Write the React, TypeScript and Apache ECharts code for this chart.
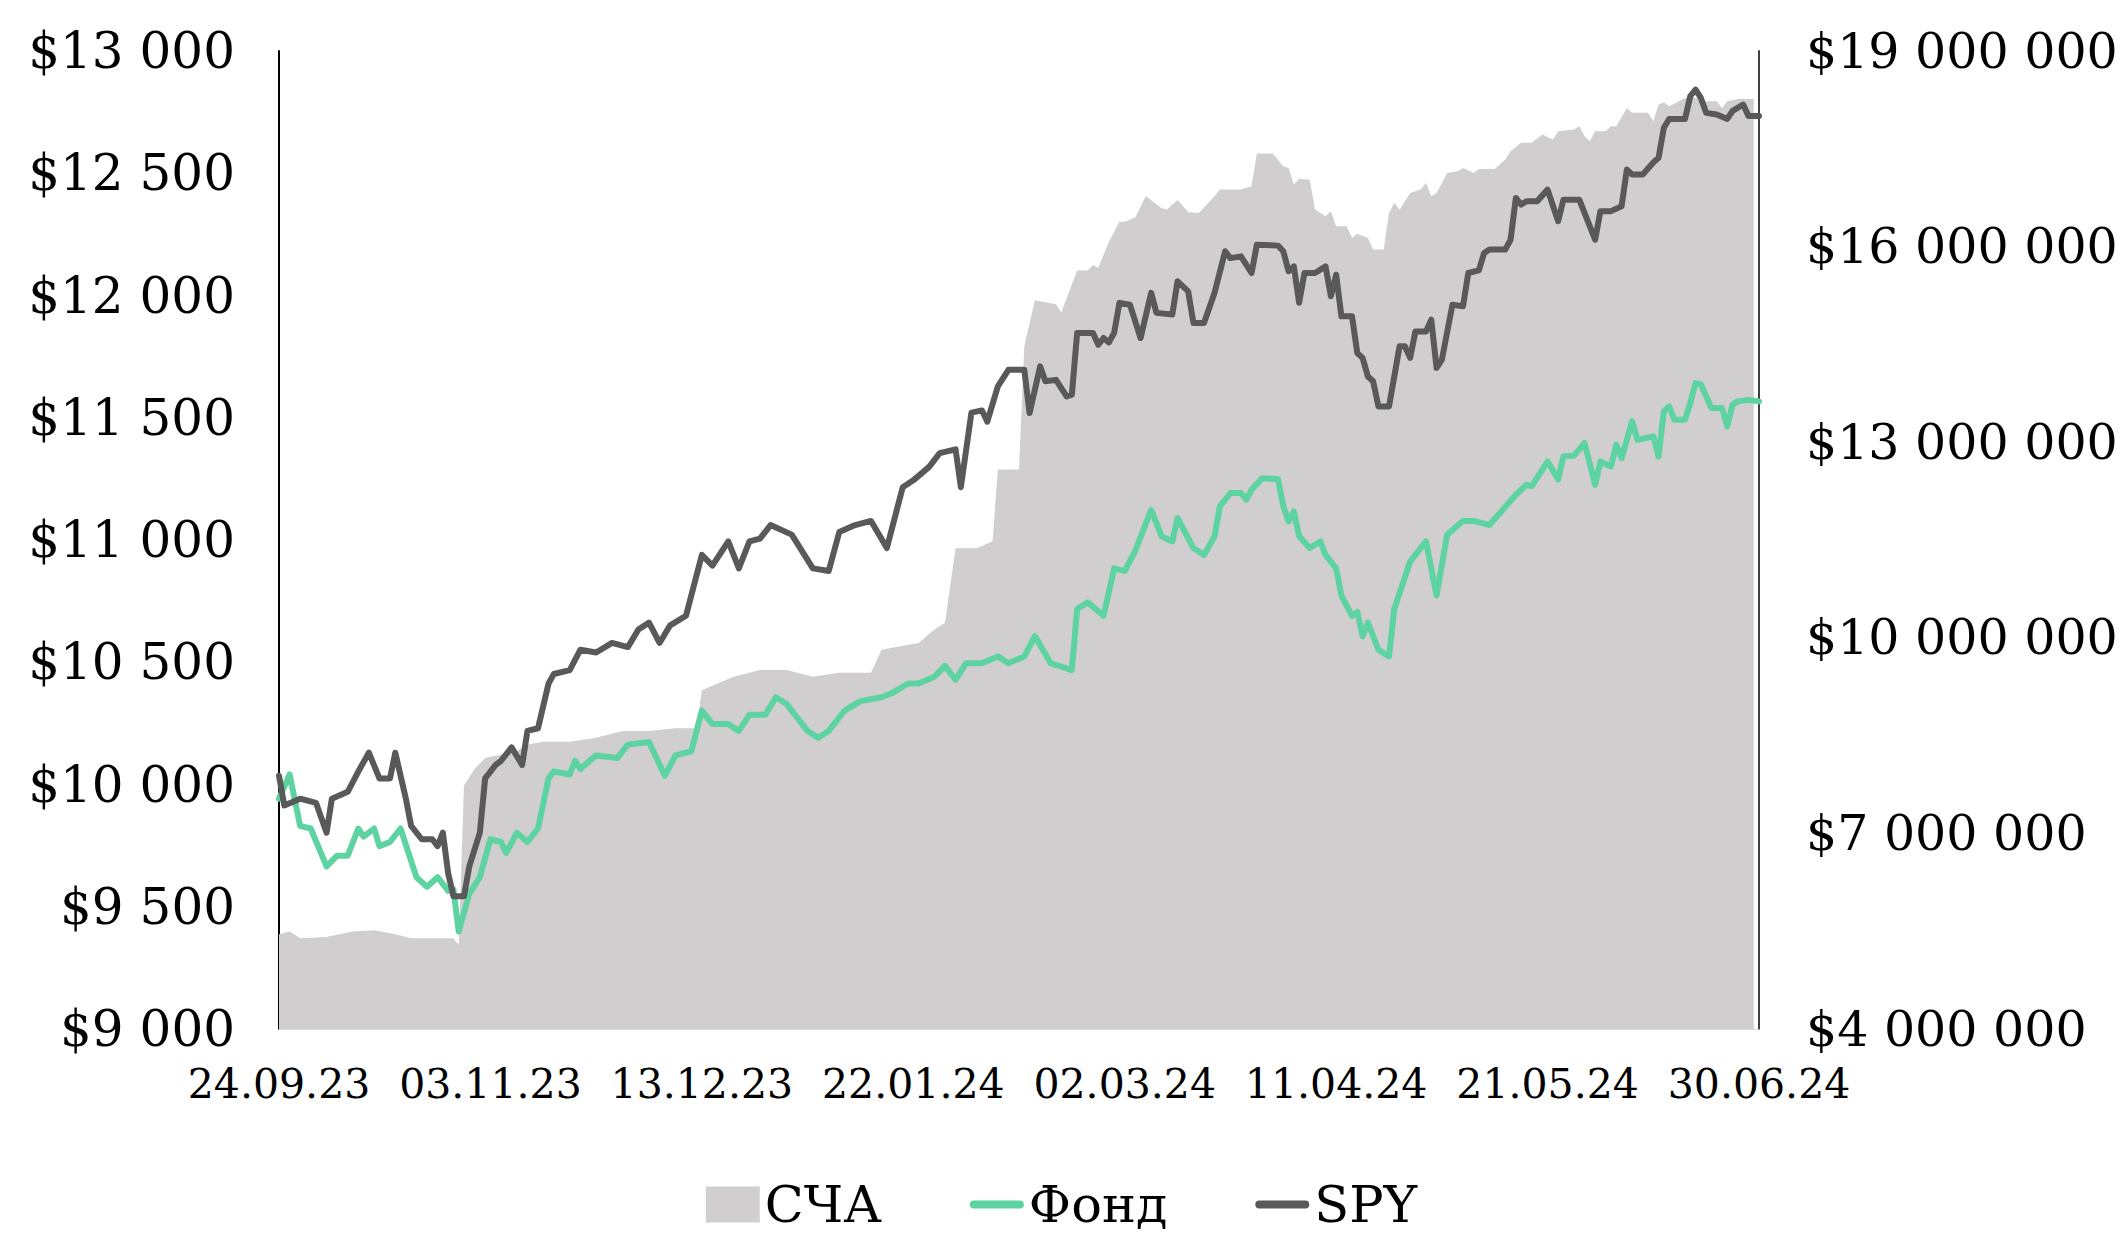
import React, { useEffect, useRef } from "react";
import * as echarts from "echarts";

// x values are days since 24.09.2023
const START_UTC = Date.UTC(2023, 8, 24);
const X_MAX_DAYS = 280;
const X_TICK_DAYS = 40;

const leftTicks = { min: 9000, max: 13000, interval: 500 };
const rightTicks = { min: 4000000, max: 19000000, interval: 3000000 };

const seriesNames = ["СЧА", "Фонд", "SPY"];

const navData: [number, number][] = [
  [0, 5454000], [2, 5495000], [4, 5392000], [9, 5412000], [14, 5495000], [18, 5516000],
  [22, 5454000], [25, 5392000], [29, 5392000], [33, 5392000], [34, 5288000], [35, 7739000],
  [37, 7989000], [39, 8155000], [45, 8259000], [47, 8363000], [50, 8404000], [55, 8404000],
  [60, 8467000], [65, 8570000], [70, 8570000], [75, 8612000], [79, 8612000], [80, 9194000],
  [86, 9401000], [91, 9505000], [96, 9505000], [101, 9401000], [106, 9464000], [112, 9464000],
  [114, 9817000], [121, 9921000], [124, 10129000], [126, 10232000], [128, 11375000], [132, 11375000],
  [135, 11479000], [136, 12580000], [140, 12580000], [141, 14471000], [143, 15177000], [147, 15115000],
  [148, 14990000], [151, 15634000], [153, 15634000], [154, 15717000], [155, 15676000], [157, 16071000],
  [159, 16382000], [160, 16382000], [162, 16445000], [164, 16777000], [167, 16590000], [168, 16569000],
  [170, 16715000], [172, 16528000], [174, 16517000], [177, 16771000], [178, 16875000], [182, 16875000],
  [184, 16924000], [185, 17427000], [188, 17427000], [190, 17232000], [191, 17207000], [192, 16951000],
  [193, 17039000], [195, 17026000], [196, 16569000], [198, 16465000], [199, 16542000], [200, 16312000],
  [202, 16312000], [203, 16133000], [204, 16199000], [206, 16133000], [207, 15954000], [209, 15954000],
  [210, 16517000], [211, 16671000], [212, 16567000], [214, 16823000], [216, 16875000], [217, 16976000],
  [218, 16771000], [219, 16823000], [221, 17130000], [223, 17155000], [224, 17207000], [226, 17130000],
  [227, 17192000], [230, 17192000], [232, 17334000], [233, 17463000], [235, 17591000], [237, 17591000],
  [239, 17718000], [241, 17641000], [242, 17768000], [245, 17795000], [246, 17845000], [247, 17693000],
  [248, 17616000], [249, 17768000], [251, 17768000], [252, 17845000], [253, 17845000], [255, 18127000],
  [256, 18051000], [259, 18051000], [260, 17922000], [261, 18179000], [262, 18215000], [263, 18152000],
  [266, 18281000], [269, 18281000], [270, 18229000], [272, 18229000], [273, 18127000], [274, 18229000],
  [276, 18265000], [279, 18265000],
];

const fundData: [number, number][] = [
  [0, 9942], [2, 10041], [4, 9831], [6, 9820], [9, 9665], [11, 9709], [13, 9709], [15, 9820],
  [16, 9787], [18, 9820], [19, 9748], [21, 9765], [23, 9820], [26, 9621], [28, 9582], [30, 9621],
  [32, 9565], [33, 9571], [34, 9399], [36, 9554], [38, 9621], [40, 9776], [42, 9765], [43, 9720],
  [45, 9803], [47, 9765], [49, 9820], [51, 10025], [52, 10053], [55, 10041], [56, 10097], [57, 10064],
  [60, 10119], [64, 10108], [66, 10163], [70, 10174], [73, 10036], [75, 10119], [78, 10136], [80, 10302],
  [82, 10247], [85, 10247], [87, 10219], [89, 10285], [92, 10285], [94, 10357], [96, 10330], [100, 10219],
  [102, 10191], [104, 10219], [107, 10302], [110, 10341], [114, 10357], [116, 10374], [119, 10413], [121, 10413],
  [124, 10441], [126, 10485], [128, 10429], [130, 10496], [133, 10496], [136, 10524], [138, 10496], [141, 10524],
  [143, 10607], [146, 10496], [150, 10468], [151, 10718], [153, 10745], [156, 10690], [158, 10884], [160, 10873],
  [162, 10956], [165, 11123], [167, 11015], [169, 10994], [170, 11090], [173, 10967], [175, 10939], [177, 11015],
  [178, 11138], [180, 11192], [182, 11192], [183, 11165], [184, 11206], [186, 11253], [189, 11249], [190, 11138],
  [191, 11076], [192, 11117], [193, 11015], [195, 10967], [197, 10994], [198, 10939], [200, 10884], [201, 10773],
  [203, 10690], [204, 10706], [205, 10607], [206, 10662], [208, 10551], [210, 10524], [211, 10718], [214, 10912],
  [215, 10939], [217, 10994], [219, 10773], [221, 11022], [224, 11078], [226, 11078], [229, 11061], [234, 11185],
  [236, 11226], [237, 11220], [240, 11321], [242, 11247], [243, 11342], [245, 11345], [247, 11397], [249, 11226],
  [250, 11321], [252, 11301], [253, 11390], [254, 11335], [256, 11485], [257, 11410], [260, 11424], [261, 11342],
  [262, 11526], [263, 11546], [264, 11492], [266, 11492], [267, 11560], [268, 11642], [269, 11636], [271, 11540],
  [273, 11540], [274, 11465], [275, 11554], [276, 11567], [278, 11573], [280, 11567],
];

const spyData: [number, number][] = [
  [0, 10036], [1, 9914], [4, 9942], [7, 9925], [9, 9803], [10, 9942], [13, 9970], [15, 10053],
  [17, 10130], [19, 10025], [21, 10025], [22, 10130], [24, 9942], [25, 9831], [27, 9776], [29, 9776],
  [30, 9748], [31, 9803], [32, 9637], [33, 9543], [35, 9543], [36, 9665], [38, 9803], [39, 10025],
  [41, 10080], [42, 10097], [44, 10152], [46, 10080], [47, 10219], [49, 10230], [51, 10413], [52, 10452],
  [55, 10468], [57, 10551], [60, 10540], [63, 10579], [66, 10562], [68, 10634], [70, 10662], [72, 10579],
  [74, 10651], [77, 10690], [78, 10773], [80, 10939], [82, 10895], [85, 10994], [87, 10884], [89, 10994],
  [91, 11006], [93, 11061], [97, 11022], [101, 10884], [104, 10873], [106, 11033], [109, 11061], [112, 11078],
  [115, 10967], [118, 11216], [120, 11244], [123, 11299], [125, 11355], [128, 11371], [129, 11216], [131, 11521],
  [133, 11530], [134, 11484], [136, 11628], [138, 11696], [141, 11696], [142, 11519], [144, 11710], [145, 11649],
  [147, 11655], [149, 11587], [150, 11594], [151, 11847], [154, 11847], [155, 11799], [156, 11826], [157, 11808],
  [158, 11847], [159, 11970], [161, 11962], [163, 11826], [165, 12011], [166, 11929], [169, 11922], [170, 12058],
  [172, 12017], [173, 11888], [175, 11888], [177, 12011], [179, 12181], [180, 12153], [182, 12160], [184, 12092],
  [185, 12208], [189, 12204], [190, 12181], [191, 12099], [192, 12119], [193, 11970], [194, 12092], [196, 12092],
  [198, 12119], [199, 11997], [200, 12085], [201, 11915], [203, 11915], [204, 11765], [205, 11745], [206, 11669],
  [207, 11649], [208, 11546], [210, 11546], [212, 11792], [213, 11792], [214, 11745], [215, 11853], [217, 11853],
  [218, 11901], [219, 11704], [220, 11737], [222, 11962], [224, 11956], [225, 12092], [227, 12103], [228, 12174],
  [229, 12188], [232, 12188], [233, 12228], [234, 12399], [235, 12372], [236, 12385], [238, 12385], [240, 12433],
  [242, 12304], [243, 12392], [246, 12392], [249, 12228], [250, 12345], [252, 12345], [254, 12365], [255, 12515],
  [256, 12495], [258, 12495], [260, 12544], [261, 12563], [262, 12686], [263, 12722], [266, 12722], [267, 12815],
  [268, 12842], [269, 12808], [270, 12747], [272, 12740], [274, 12722], [275, 12755], [277, 12781], [278, 12734],
  [280, 12734],
];

const COLORS = { nav: "#d0cecf", fund: "#5dd3a2", spy: "#595959" };
const FONT = "DejaVu Serif";
const LINE_ICON = "path://M4,0H50A4,4,0,0,1,50,8H4A4,4,0,0,1,4,0Z";

function money(v: number): string {
  return "$" + String(Math.round(v)).replace(/\B(?=(\d{3})+(?!\d))/g, " ");
}

function dayLabel(d: number): string {
  const dt = new Date(START_UTC + d * 86400000);
  const dd = String(dt.getUTCDate()).padStart(2, "0");
  const mm = String(dt.getUTCMonth() + 1).padStart(2, "0");
  const yy = String(dt.getUTCFullYear() % 100).padStart(2, "0");
  return `${dd}.${mm}.${yy}`;
}

export default function App() {
  const ref = useRef<HTMLDivElement>(null);

  useEffect(() => {
    document.body.style.margin = "0";
    if (!ref.current) return;
    const chart = echarts.init(ref.current, null, { renderer: "svg" });
    chart.setOption({
      animation: false,
      backgroundColor: "#ffffff",
      textStyle: { fontFamily: FONT },
      grid: { left: 279, right: 364, top: 51, bottom: 212, containLabel: false },
      legend: {
        left: "center",
        top: 1174,
        itemGap: 88,
        itemWidth: 54,
        itemHeight: 36,
        textStyle: { fontFamily: FONT, fontSize: 51, color: "#000" },
        data: [
          { name: seriesNames[0], icon: "rect" },
          { name: seriesNames[1], icon: LINE_ICON },
          { name: seriesNames[2], icon: LINE_ICON },
        ],
      },
      xAxis: {
        type: "value",
        min: 0,
        max: X_MAX_DAYS,
        interval: X_TICK_DAYS,
        axisLine: { show: true, lineStyle: { color: "#d9d9d9", width: 1 } },
        axisTick: { show: false },
        splitLine: { show: false },
        axisLabel: {
          fontFamily: FONT,
          fontSize: 41,
          color: "#000",
          margin: 34,
          formatter: (v: number) => dayLabel(v),
        },
      },
      yAxis: [
        {
          type: "value",
          min: leftTicks.min,
          max: leftTicks.max,
          interval: leftTicks.interval,
          axisLine: { show: true, lineStyle: { color: "#000", width: 2 } },
          axisTick: { show: false },
          splitLine: { show: false },
          axisLabel: { fontFamily: FONT, fontSize: 50, color: "#000", margin: 44, formatter: money },
        },
        {
          type: "value",
          position: "right",
          min: rightTicks.min,
          max: rightTicks.max,
          interval: rightTicks.interval,
          axisLine: { show: true, lineStyle: { color: "#404040", width: 2 } },
          axisTick: { show: false },
          splitLine: { show: false },
          axisLabel: { fontFamily: FONT, fontSize: 49, color: "#000", margin: 47, formatter: money },
        },
      ],
      series: [
        {
          name: seriesNames[0],
          type: "line",
          yAxisIndex: 1,
          data: navData,
          symbol: "none",
          lineStyle: { width: 0, color: COLORS.nav },
          itemStyle: { color: COLORS.nav },
          areaStyle: { color: COLORS.nav, opacity: 1 },
          z: 1,
        },
        {
          name: seriesNames[1],
          type: "line",
          yAxisIndex: 0,
          data: fundData,
          symbol: "none",
          lineStyle: { width: 6, color: COLORS.fund, join: "round", cap: "round" },
          itemStyle: { color: COLORS.fund },
          z: 2,
        },
        {
          name: seriesNames[2],
          type: "line",
          yAxisIndex: 0,
          data: spyData,
          symbol: "none",
          lineStyle: { width: 6, color: COLORS.spy, join: "round", cap: "round" },
          itemStyle: { color: COLORS.spy },
          z: 3,
        },
      ],
    });
    return () => chart.dispose();
  }, []);

  return (
    <div
      ref={ref}
      style={{ position: "absolute", left: 0, top: 0, width: 2123, height: 1241 }}
    />
  );
}
